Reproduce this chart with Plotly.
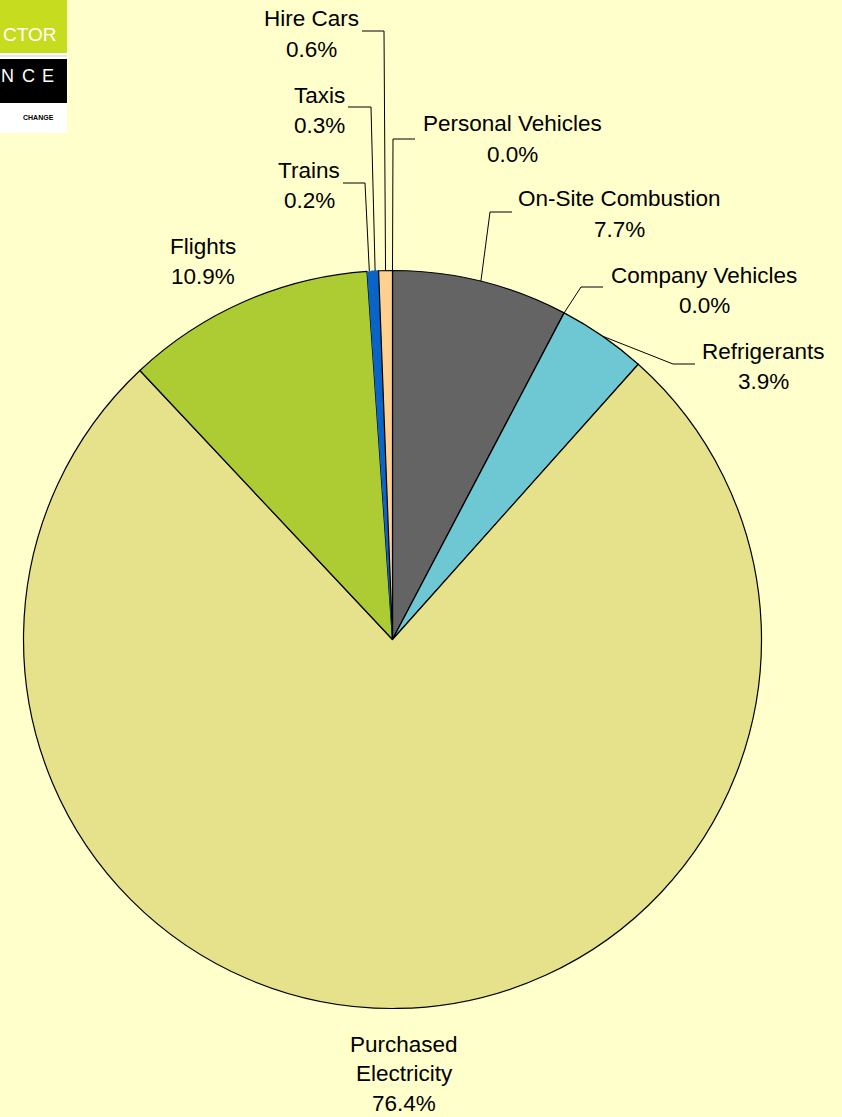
import math
import plotly.graph_objects as go

# ── data ────────────────────────────────────────────────────────────────
labels = ["Personal Vehicles", "On-Site Combustion", "Company Vehicles", "Refrigerants",
          "Purchased Electricity", "Flights", "Trains", "Taxis", "Hire Cars"]
values = [0.0, 7.7, 0.0, 3.9, 76.4, 10.9, 0.2, 0.3, 0.6]
colors = ["#7f7f7f", "#646464", "#3f7fbf", "#6ec8d4",
          "#e6e28c", "#adcb32", "#0a64c8", "#0a64c8", "#ffd08f"]
label_text = {
    "Personal Vehicles": ["Personal Vehicles", "0.0%"],
    "On-Site Combustion": ["On-Site Combustion", "7.7%"],
    "Company Vehicles": ["Company Vehicles", "0.0%"],
    "Refrigerants": ["Refrigerants", "3.9%"],
    "Purchased Electricity": ["Purchased", "Electricity", "76.4%"],
    "Flights": ["Flights", "10.9%"],
    "Trains": ["Trains", "0.2%"],
    "Taxis": ["Taxis", "0.3%"],
    "Hire Cars": ["Hire Cars", "0.6%"],
}

# ── layout (pixels) ─────────────────────────────────────────────────────
W, H = 842, 1117
CX, CY, R = 392.5, 639.5, 369
BG = "#ffffcc"
LINE_GAP = 30.5

# label centre of first line, plus leader elbow / end (None = no leader)
label_pos = {
    "Personal Vehicles": (512, 124, (393, 139), (415, 139)),
    "On-Site Combustion": (619, 199, (490, 212), (512, 212)),
    "Company Vehicles": (704, 275, (581, 287), (603, 287)),
    "Refrigerants": (763, 351, (673, 364), (695, 364)),
    "Purchased Electricity": (404, 1044, None, None),
    "Flights": (203, 246, None, None),
    "Trains": (309, 170, (365, 183), (343, 183)),
    "Taxis": (319, 95, (371, 107), (348, 107)),
    "Hire Cars": (311, 19, (384, 31), (362, 31)),
}

# the two blue slices read as one band in the original (no divider between them)
edge_colors = ["#000000"] * len(labels)
edge_widths = [1.2] * len(labels)
edge_widths[labels.index("Trains")] = 0
edge_colors[labels.index("Taxis")] = "#0a64c8"


def px(x, y):
    return x / W, 1 - y / H


fig = go.Figure(go.Pie(
    labels=labels,
    values=values,
    sort=False,
    direction="clockwise",
    rotation=0,
    marker=dict(colors=colors, line=dict(color=edge_colors, width=edge_widths)),
    textinfo="none",
    hoverinfo="label+percent",
    showlegend=False,
    domain=dict(x=[(CX - R) / W, (CX + R) / W], y=[1 - (CY + R) / H, 1 - (CY - R) / H]),
))

shapes = []
annotations = []
total = sum(values)
cum = 0.0
for lab, v in zip(labels, values):
    mid = (cum + v / 2) / total
    cum += v
    ang = 2 * math.pi * mid
    ax, ay = CX + R * math.sin(ang), CY - R * math.cos(ang)
    tx, ty, elbow, end = label_pos[lab]
    if elbow is not None:
        p0, p1, p2 = px(ax, ay), px(*elbow), px(*end)
        shapes.append(dict(
            type="path", xref="paper", yref="paper",
            path=f"M {p0[0]} {p0[1]} L {p1[0]} {p1[1]} L {p2[0]} {p2[1]}",
            line=dict(color="#000000", width=1),
        ))
    lines = label_text[lab]
    gap = LINE_GAP if len(lines) < 3 else 29.5
    for i, line in enumerate(lines):
        x, y = px(tx, ty + i * gap)
        annotations.append(dict(
            x=x, y=y, xref="paper", yref="paper", text=line, showarrow=False,
            xanchor="center", yanchor="middle",
            font=dict(family="Liberation Sans, Arial", size=22.5, color="#000000"),
        ))

# ── logo fragment in the corner ─────────────────────────────────────────
def rect(x0, y0, x1, y1, color):
    a, b = px(x0, y0)
    c, d = px(x1, y1)
    shapes.append(dict(type="rect", xref="paper", yref="paper", x0=a, y0=d, x1=c, y1=b,
                       fillcolor=color, line=dict(width=0), layer="above"))


rect(0, 0, 67, 133, "#ffffff")
rect(0, 0, 67, 53, "#c6dc1e")
rect(0, 55, 67, 57, "#e8e8e8")
rect(0, 59, 67, 103, "#000000")

logo_text = [
    ("CTOR", 1, 35, 19, "#ffffff", "left"),
    ("N", 7, 76, 18, "#ffffff", "center"),
    ("C", 28, 76, 18, "#ffffff", "center"),
    ("E", 48, 76, 18, "#ffffff", "center"),
    ("<b>CHANGE</b>", 56, 118, 7, "#000000", "right"),
]
for text, x, y, size, col, anchor in logo_text:
    a, b = px(x, y)
    annotations.append(dict(
        x=a, y=b, xref="paper", yref="paper", text=text, showarrow=False,
        xanchor=anchor, yanchor="middle",
        font=dict(family="Liberation Sans, Arial", size=size, color=col),
    ))

fig.update_layout(
    width=W, height=H,
    margin=dict(l=0, r=0, t=0, b=0),
    paper_bgcolor=BG,
    plot_bgcolor=BG,
    shapes=shapes,
    annotations=annotations,
)

fig.write_html("out.html", config={"displayModeBar": False},
               post_script="document.body.style.margin='0px';")
